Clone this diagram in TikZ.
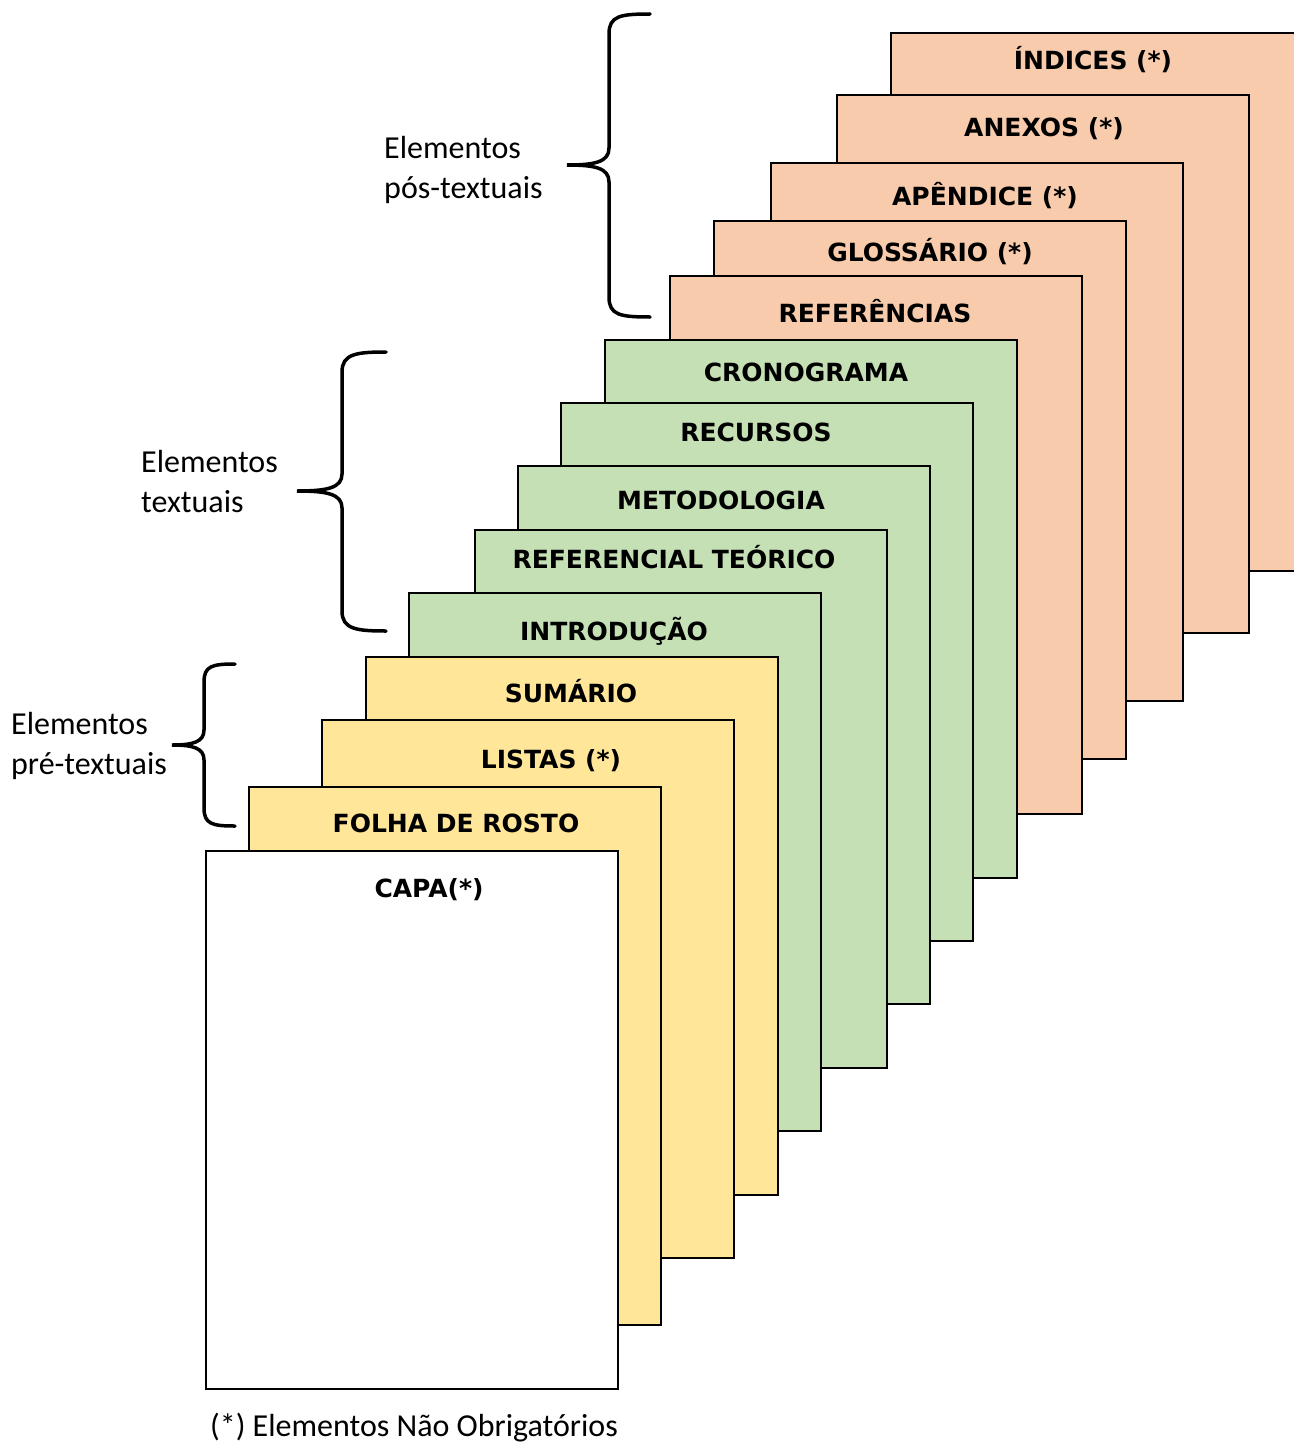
\documentclass[tikz,border=0pt]{standalone}
\usepackage{fontspec}
\setmainfont{Carlito}
\newfontfamily\sheetfont{DejaVu Sans}
\usepackage{xcolor}
\definecolor{PosFill}{HTML}{F8CBAD}
\definecolor{TxtFill}{HTML}{C5E0B4}
\definecolor{PreFill}{HTML}{FFE699}
\usetikzlibrary{positioning}

\begin{document}
\begin{tikzpicture}[
  x=1pt, y=-1pt,
  every node/.style={inner sep=0pt},
  sheet/.style={rectangle, draw=black, line width=1.6pt, anchor=north west, minimum width=412pt, minimum height=538pt},
  sheettitle/.style={font=\sheetfont\bfseries\fontsize{25}{30}\selectfont, text height=18pt, text depth=0pt},
  grouplabel/.style={font=\fontsize{32}{40}\selectfont, align=left, anchor=west},
  bracket/.style={line width=3.5pt, line cap=round}
]
  \useasboundingbox (0,0) rectangle (1293,1445);

  % elementos pos-textuais
  \node[sheet, fill=PosFill] (indices) at (890,32) {};
  \node[sheettitle] (indicesT) at (1093,61) {ÍNDICES (*)};
  \node[sheet, fill=PosFill] (anexos) at (836,94) {};
  \node[sheettitle] (anexosT) at (1044,127) {ANEXOS (*)};
  \node[sheet, fill=PosFill] (apendice) at (770,162) {};
  \node[sheettitle] (apendiceT) at (985,196) {APÊNDICE (*)};
  \node[sheet, fill=PosFill] (glossario) at (713,220) {};
  \node[sheettitle] (glossarioT) at (930,252) {GLOSSÁRIO (*)};
  \node[sheet, fill=PosFill] (referencias) at (669,275) {};
  \node[sheettitle] (referenciasT) at (875,313) {REFERÊNCIAS};

  % elementos textuais
  \node[sheet, fill=TxtFill] (cronograma) at (604,339) {};
  \node[sheettitle] (cronogramaT) at (806,372) {CRONOGRAMA};
  \node[sheet, fill=TxtFill] (recursos) at (560,402) {};
  \node[sheettitle] (recursosT) at (756,432) {RECURSOS};
  \node[sheet, fill=TxtFill] (metodologia) at (517,465) {};
  \node[sheettitle] (metodologiaT) at (721,500) {METODOLOGIA};
  \node[sheet, fill=TxtFill] (referencial) at (474,529) {};
  \node[sheettitle] (referencialT) at (674,559) {REFERENCIAL TEÓRICO};
  \node[sheet, fill=TxtFill] (introducao) at (408,592) {};
  \node[sheettitle] (introducaoT) at (614,631) {INTRODUÇÃO};

  % elementos pre-textuais
  \node[sheet, fill=PreFill] (sumario) at (365,656) {};
  \node[sheettitle] (sumarioT) at (571,693) {SUMÁRIO};
  \node[sheet, fill=PreFill] (listas) at (321,719) {};
  \node[sheettitle] (listasT) at (551,759) {LISTAS (*)};
  \node[sheet, fill=PreFill] (folha) at (248,786) {};
  \node[sheettitle] (folhaT) at (456,823) {FOLHA DE ROSTO};
  \node[sheet, fill=white] (capa) at (205,850) {};
  \node[sheettitle] (capaT) at (429,888) {CAPA(*)};

  % chaves
  \draw[bracket] (650,14) .. controls (620,14) and (609,16) .. (609,34) -- (609,148)
    .. controls (609,162) and (595,165) .. (567,165) .. controls (595,165) and (609,168) .. (609,182)
    -- (609,297) .. controls (609,315) and (620,317) .. (650,317);
  \draw[bracket] (386,352) .. controls (356,352) and (342,354) .. (342,372) -- (342,474)
    .. controls (342,488) and (327,491) .. (297,491) .. controls (327,491) and (342,494) .. (342,508)
    -- (342,611) .. controls (342,629) and (356,631) .. (386,631);
  \draw[bracket] (235,664) .. controls (212,664) and (204,666) .. (204,682) -- (204,730)
    .. controls (204,742) and (193,745) .. (172,745) .. controls (193,745) and (204,748) .. (204,760)
    -- (204,808) .. controls (204,824) and (212,826) .. (235,826);

  \node[grouplabel] (poslabel) at (384,170) {Elementos\\pós-textuais};
  \node[grouplabel] (txtlabel) at (141,482) {Elementos\\textuais};
  \node[grouplabel] (prelabel) at (11,746) {Elementos\\pré-textuais};

  \node[font=\fontsize{32}{40}\selectfont] (nota) at (414,1428) {(*) Elementos Não Obrigatórios};
\end{tikzpicture}
\end{document}
